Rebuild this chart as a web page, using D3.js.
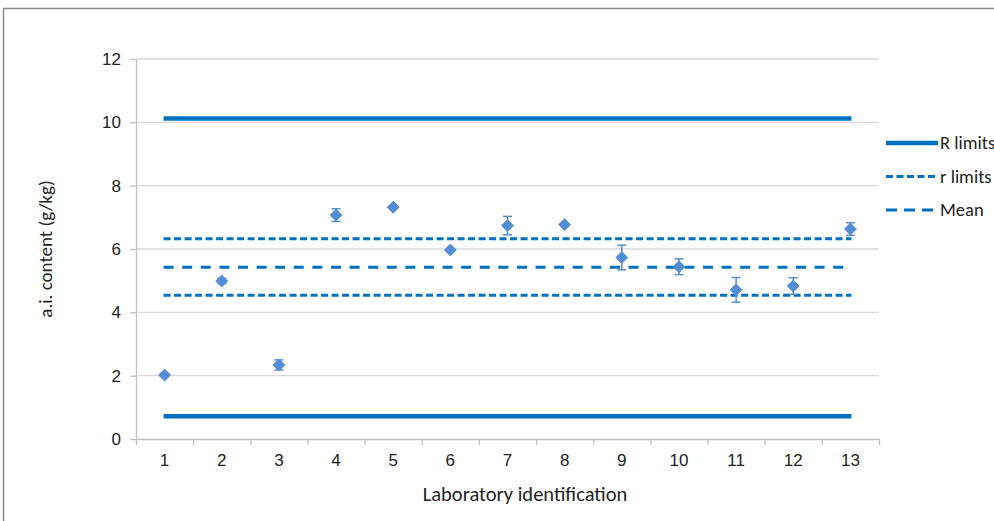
<!DOCTYPE html>
<html>
<head>
<meta charset="utf-8">
<script src="https://cdn.jsdelivr.net/npm/d3@7"></script>
<style>
	body { margin: 0; background: #fff; }
	svg { display: block; font-family: Calibri, Carlito, Lato, 'Open Sans', sans-serif; }
</style>
</head>
<body>
<svg id="chart"></svg>
<script>
// chart values
const labs = ['1', '2', '3', '4', '5', '6', '7', '8', '9', '10', '11', '12', '13'];
const content = [2.02, 4.99, 2.34, 7.07, 7.32, 5.97, 6.74, 6.77, 5.73, 5.44, 4.71, 4.83, 6.63];
const errors = [0.03, 0.08, 0.16, 0.2, 0.04, 0.04, 0.29, 0.04, 0.39, 0.25, 0.39, 0.26, 0.2];
const meanValue = 5.42;
const rLimits = [4.54, 6.32];
const bigRLimits = [0.72, 10.12];
const yTicks = [0, 2, 4, 6, 8, 10, 12];
const legendItems = ['R limits', 'r limits', 'Mean'];

const width = 994, height = 521;
const plotLeft = 136, plotRight = 879, plotTop = 59, plotBottom = 439;

const svg = d3.select('#chart')
	.attr('width', width)
	.attr('height', height);

// outer chart frame (runs off right and bottom edges)
svg.append('rect')
	.attr('x', 3.5).attr('y', 8.5)
	.attr('width', 1000).attr('height', 530)
	.attr('fill', '#fff')
	.attr('stroke', '#898989')
	.attr('stroke-width', 1.5);

const xScale = d3.scaleBand()
	.domain(labs)
	.range([plotLeft, plotRight])
	.padding(0);

const xEdges = d3.scaleLinear()
	.domain([0, labs.length])
	.range([plotLeft, plotRight]);

const yScale = d3.scaleLinear()
	.domain([0, 12])
	.range([plotBottom, plotTop]);

const cx = d => xScale(d) + xScale.bandwidth() / 2;

// gridlines
svg.append('g')
	.selectAll('line')
	.data(yTicks.filter(t => t > 0))
	.enter()
	.append('line')
	.attr('x1', plotLeft).attr('x2', plotRight)
	.attr('y1', d => yScale(d)).attr('y2', d => yScale(d))
	.style('stroke', '#d9d9d9')
	.style('stroke-width', 1.3);

// y axis
const yAxis = svg.append('g')
	.attr('transform', `translate(${plotLeft},0)`)
	.call(d3.axisLeft(yScale).tickValues(yTicks).tickSize(6).tickPadding(9).tickSizeOuter(0));
yAxis.selectAll('path, line').style('stroke', '#bfbfbf').style('stroke-width', 1.3);
yAxis.selectAll('text').style('font-size', '17px').style('fill', '#222').style('font-family', 'inherit');

// x axis: ticks at category edges, labels at centres
const xAxis = svg.append('g')
	.attr('transform', `translate(0,${plotBottom})`)
	.call(d3.axisBottom(xEdges).tickValues(d3.range(0, labs.length + 1)).tickSize(6).tickFormat('').tickSizeOuter(0));
xAxis.selectAll('path, line').style('stroke', '#bfbfbf').style('stroke-width', 1.3);

const xLabels = svg.append('g')
	.attr('transform', `translate(0,${plotBottom})`)
	.call(d3.axisBottom(xScale).tickSize(0).tickPadding(15));
xLabels.select('.domain').remove();
xLabels.selectAll('text').style('font-size', '17px').style('fill', '#222').style('font-family', 'inherit');

// reference lines
const x0 = cx(labs[0]), x1 = cx(labs[labs.length - 1]);
const refLines = [
	...bigRLimits.map(v => ({ v, w: 4.5, dash: null })),
	...rLimits.map(v => ({ v, w: 3, dash: '7,3.5' })),
	{ v: meanValue, w: 3, dash: '10,8.6' }
];
svg.append('g')
	.selectAll('line')
	.data(refLines)
	.enter()
	.append('line')
	.attr('x1', x0 - 1).attr('x2', x1 + 1)
	.attr('y1', d => yScale(d.v)).attr('y2', d => yScale(d.v))
	.style('stroke', '#0070c0')
	.style('stroke-width', d => d.w)
	.style('stroke-dasharray', d => d.dash);

// error bars
const markerColor = '#548dd4';
const eb = svg.append('g')
	.selectAll('g')
	.data(labs.map((l, i) => ({ l, v: content[i], e: errors[i] })))
	.enter()
	.append('g')
	.style('stroke', markerColor)
	.style('stroke-width', 1.5);
eb.append('line')
	.attr('x1', d => cx(d.l)).attr('x2', d => cx(d.l))
	.attr('y1', d => yScale(d.v - d.e)).attr('y2', d => yScale(d.v + d.e));
eb.append('line')
	.attr('x1', d => cx(d.l) - 4.5).attr('x2', d => cx(d.l) + 4.5)
	.attr('y1', d => yScale(d.v - d.e)).attr('y2', d => yScale(d.v - d.e));
eb.append('line')
	.attr('x1', d => cx(d.l) - 4.5).attr('x2', d => cx(d.l) + 4.5)
	.attr('y1', d => yScale(d.v + d.e)).attr('y2', d => yScale(d.v + d.e));

// diamond markers
const diamond = d3.symbol().type(d3.symbolDiamond2).size(90);
svg.append('g')
	.selectAll('path')
	.data(labs.map((l, i) => ({ l, v: content[i] })))
	.enter()
	.append('path')
	.attr('d', diamond)
	.attr('transform', d => `translate(${cx(d.l)},${yScale(d.v)})`)
	.style('fill', markerColor)
	.style('stroke', markerColor)
	.style('stroke-width', 1);

// legend
const legendStyles = [
	{ w: 4.5, dash: null },
	{ w: 3, dash: '7,3.5' },
	{ w: 3, dash: '11,7' }
];
const legend = svg.append('g')
	.selectAll('g')
	.data(legendItems)
	.enter()
	.append('g')
	.attr('transform', (d, i) => `translate(886,${143 + i * 33.5})`);
legend.append('line')
	.attr('x1', 0).attr('x2', 52)
	.style('stroke', '#0070c0')
	.style('stroke-width', (d, i) => legendStyles[i].w)
	.style('stroke-dasharray', (d, i) => legendStyles[i].dash);
legend.append('text')
	.attr('x', 54).attr('dy', '0.35em')
	.style('font-size', '18.5px')
	.style('fill', '#222')
	.text(d => d);

// axis titles
svg.append('text')
	.attr('transform', `translate(52,${(plotTop + plotBottom) / 2}) rotate(-90)`)
	.attr('text-anchor', 'middle')
	.style('font-size', '19px')
	.style('fill', '#222')
	.text('a.i. content (g/kg)');

svg.append('text')
	.attr('x', 525)
	.attr('y', 501)
	.attr('text-anchor', 'middle')
	.style('font-size', '20.5px')
	.style('fill', '#222')
	.text('Laboratory identification');
</script>
</body>
</html>
